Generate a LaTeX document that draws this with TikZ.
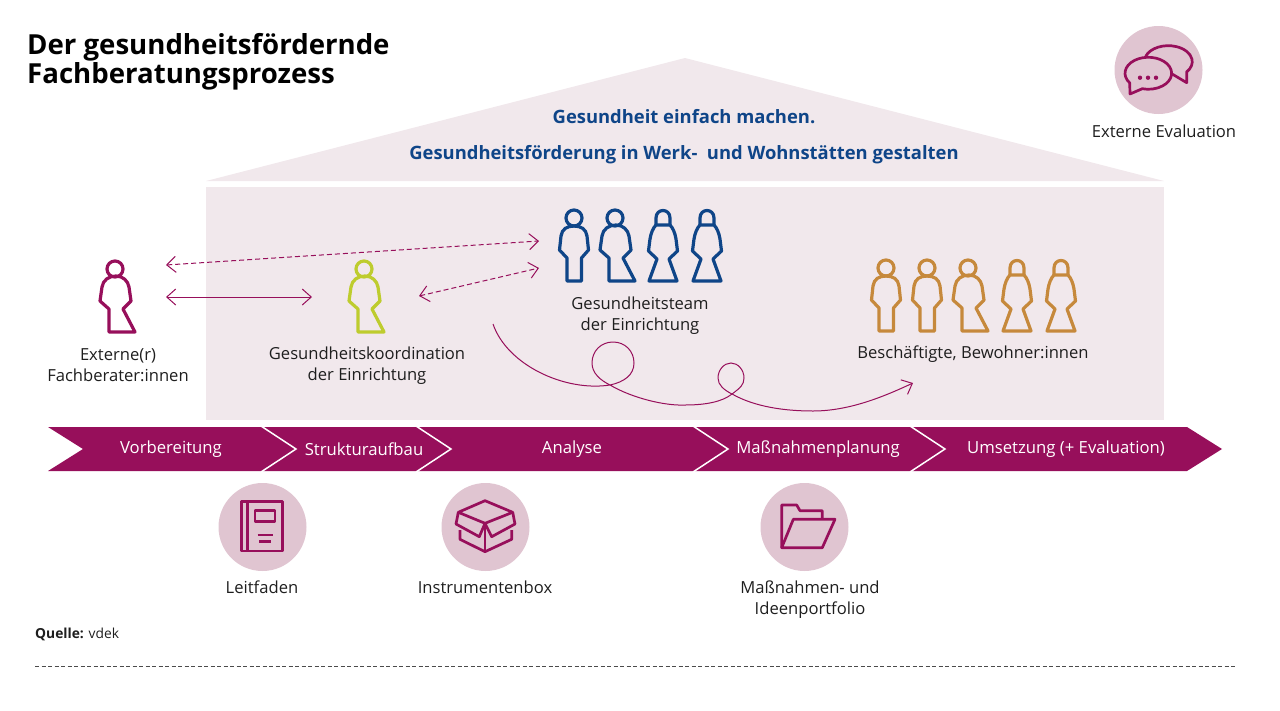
\documentclass[tikz,border=0pt]{standalone}
\usepackage{fontspec}
\setmainfont{Open Sans}
\usetikzlibrary{arrows.meta}
\definecolor{berry}{HTML}{970F5B}
\definecolor{housebg}{HTML}{F1E8EC}
\definecolor{iconbg}{HTML}{E0C5D1}
\definecolor{teamblue}{HTML}{0F4588}
\definecolor{leafgreen}{HTML}{BECC2E}
\definecolor{ochre}{HTML}{C6893C}
\definecolor{inktext}{HTML}{1E1E1E}
\tikzset{
  lbl/.style={font=\fontsize{16.6}{21}\selectfont,text=inktext,align=center,inner sep=0pt},
  phase/.style={font=\fontsize{16.7}{18}\selectfont,text=white,inner sep=0pt},
  headline/.style={font=\fontsize{18.4}{22}\selectfont\bfseries,text=teamblue,inner sep=0pt},
  titleline/.style={anchor=base west,inner sep=0pt,font=\fontsize{27.6}{30}\selectfont\bfseries,text=black},
  iconline/.style={draw=berry,line width=2.7pt,line join=round},
  personline/.style={line width=3.2pt,line join=round},
  barb/.style={{Straight Barb[length=9pt,width=16pt]}-{Straight Barb[length=9pt,width=16pt]},berry,line width=1pt},
  dash5/.style={dash pattern=on 5pt off 3pt},
  pics/manfig/.style={code={
    \draw[personline] (0,0) circle[radius=8];
    \draw[personline] (0,8) .. controls (-7,8) and (-12,11) .. (-13,18) -- (-14.5,32) -- (-7,40) -- (-7,63)
      -- (7.5,63) -- (7.5,40) -- (14.5,32) -- (13,18) .. controls (12,11) and (7,8) .. (0,8) -- cycle;
  }},
  pics/coatfig/.style={code={
    \draw[personline] (0,0) circle[radius=8];
    \draw[personline] (1,7) .. controls (-6,7) and (-12,11) .. (-13,18) -- (-15,32) -- (-6,40) -- (-6,63)
      -- (20,63) -- (8,40) -- (16,32) -- (14,18) .. controls (13,12) and (8,7) .. (1,7) -- cycle;
  }},
  pics/dressfig/.style={code={
    \draw[personline] (-7,7) -- (-7,0) .. controls (-7,-10) and (7,-10) .. (7,0) -- (7,7);
    \draw[personline] (-7,7) -- (7,7) .. controls (10,10) and (12,15) .. (13,21) -- (14.5,33) -- (6,41) -- (14,63)
      -- (-14,63) -- (-6,41) -- (-14.5,33) -- (-13,21) .. controls (-12,15) and (-10,10) .. (-7,7) -- cycle;
  }},
}
\begin{document}
\begin{tikzpicture}[x=1pt,y=-1pt]
  \useasboundingbox (0,0) rectangle (1280,710);
  % house
  \fill[housebg] (206,181) -- (685,58) -- (1164,181) -- cycle;
  \fill[housebg] (206,187) rectangle (1164,420);
  % title
  \node[titleline] (title1) at (27,54) {Der gesundheitsfördernde};
  \node[titleline] (title2) at (27,83.5) {Fachberatungsprozess};
  \node[headline] (head1) at (684,117) {Gesundheit einfach machen.};
  \node[headline] (head2) at (684,155) {Gesundheitsförderung in Werk-\ \ und Wohnstätten gestalten};
  % people
  \pic[draw=berry] at (115,269) {coatfig};
  \pic[draw=leafgreen] at (364,269) {coatfig};
  \foreach \x/\kind in {574/manfig,615/coatfig,663/dressfig,707/dressfig}{
    \pic[draw=teamblue] at (\x,218) {\kind};
  }
  \foreach \x/\kind in {886/manfig,927/manfig,968/coatfig,1017/dressfig,1061/dressfig}{
    \pic[draw=ochre] at (\x,268) {\kind};
  }
  \node[lbl] (extern) at (118,365) {Externe(r)\\Fachberater:innen};
  \node[lbl] (koord) at (367,366) {Gesundheitskoordination\\der Einrichtung};
  \node[lbl] (team) at (640,316) {Gesundheitsteam\\der Einrichtung};
  \node[lbl] (staff) at (973,354) {Beschäftigte, Bewohner:innen};
  % connector ends
  \coordinate (extTop) at (166,265);
  \coordinate (extMid) at (166,297);
  \coordinate (koordW) at (312,297);
  \coordinate (koordE) at (419,296);
  \coordinate (teamUp) at (539,241);
  \coordinate (teamLow) at (539,268);
  \coordinate (wayStart) at (493,324);
  \coordinate (wayEnd) at (913,383);
  \draw[barb,dash5] (extTop) -- (teamUp);
  \draw[barb] (extMid) -- (koordW);
  \draw[barb,dash5] (koordE) -- (teamLow);
  \draw[-{Straight Barb[length=9pt,width=16pt]},berry,line width=1pt] (wayStart)
    .. controls (507,365) and (565,392) .. (610,385)
    .. controls (624,382) and (634,375) .. (634,363)
    .. controls (634,351) and (625,342) .. (613,342)
    .. controls (601,342) and (592,351) .. (592,363)
    .. controls (592,373) and (600,380) .. (610,385)
    .. controls (632,398) and (665,406) .. (685,405)
    .. controls (705,405) and (722,402) .. (732,394)
    .. controls (740,388) and (744,385) .. (744,378)
    .. controls (744,370) and (738,363) .. (731,363)
    .. controls (724,363) and (718,370) .. (718,378)
    .. controls (718,385) and (724,390) .. (732,394)
    .. controls (755,407) and (785,411) .. (813,411)
    .. controls (850,411) and (885,396) .. (wayEnd);
  % phase band
  \fill[berry] (48,427) -- (1187,427) -- (1222,449) -- (1187,471) -- (48,471) -- (83,449) -- cycle;
  \foreach \x in {261,416,693,910}{
    \draw[white,line width=1.5pt] (\x,426) -- (\x+35,449) -- (\x,472);
  }
  \foreach \x/\t/\name in {171/Vorbereitung/vorb,364/Strukturaufbau/struk,572/Analyse/ana,818/Maßnahmenplanung/plan,1066/Umsetzung (+ Evaluation)/ums}{
    \node[phase] (\name) at (\x,449) {\t};
  }
  % icon discs
  \foreach \x/\y in {262.5/527,485.5/527,804.5/527,1158.5/70}{
    \fill[iconbg] (\x,\y) circle[radius=44];
  }
  % book
  \draw[iconline] (241.7,501.7) rectangle (282.7,551);
  \draw[iconline] (247.7,501.7) -- (247.7,551);
  \draw[iconline] (255,510.7) rectangle (275,521.7);
  \draw[iconline] (257.7,535) -- (272.7,535);
  \draw[iconline] (259,541.7) -- (271,541.7);
  % box
  \draw[iconline] (485,500.7) -- (512.7,512.3) -- (485,523.3) -- (458.3,512.3) -- cycle;
  \draw[iconline] (458.3,512.3) -- (456,524) -- (479.3,536.7) -- (485,523.3) -- (491.7,536.7) -- (515,524) -- (512.7,512.3);
  \draw[iconline] (460,530) -- (460,539.3) -- (485,551.7) -- (511.7,539.3) -- (511.7,530);
  \draw[iconline] (485,523.3) -- (485,551.7);
  % folder
  \draw[iconline] (822.3,518.3) -- (822.3,510.7) -- (800,510.7) -- (796.7,505) -- (781.7,505) -- (781.7,547.7);
  \draw[iconline] (781.7,547.7) -- (793.3,519.3) -- (835,519.3) -- (822.3,547.7) -- cycle;
  % bubbles
  \draw[iconline] (1129.7,82.9) arc[start angle=143,end angle=465,x radius=23.3,y radius=16] -- (1130,94) -- cycle;
  \draw[iconline] (1145.7,56.2) arc[start angle=200,end angle=400,x radius=24,y radius=16] -- (1186.7,82.7) -- (1172.7,74.3);
  \foreach \x in {1140,1148,1156}{
    \fill[berry] (\x,77.7) circle[radius=2.2];
  }
  % icon labels
  \node[lbl] (evalLbl) at (1164,131) {Externe Evaluation};
  \node[lbl] (guide) at (262,587) {Leitfaden};
  \node[lbl] (toolbox) at (485,587) {Instrumentenbox};
  \node[lbl] (portfolio) at (810,600) {Maßnahmen- und\\Ideenportfolio};
  % source
  \node[anchor=west,inner sep=0pt,font=\fontsize{13.8}{15}\selectfont,text=inktext] (source) at (35,634) {\textbf{Quelle:} vdek};
  \coordinate (ruleL) at (35,666);
  \coordinate (ruleR) at (1237,666);
  \draw[inktext!80,line width=0.8pt,dash pattern=on 4pt off 2.5pt] (ruleL) -- (ruleR);
\end{tikzpicture}
\end{document}
